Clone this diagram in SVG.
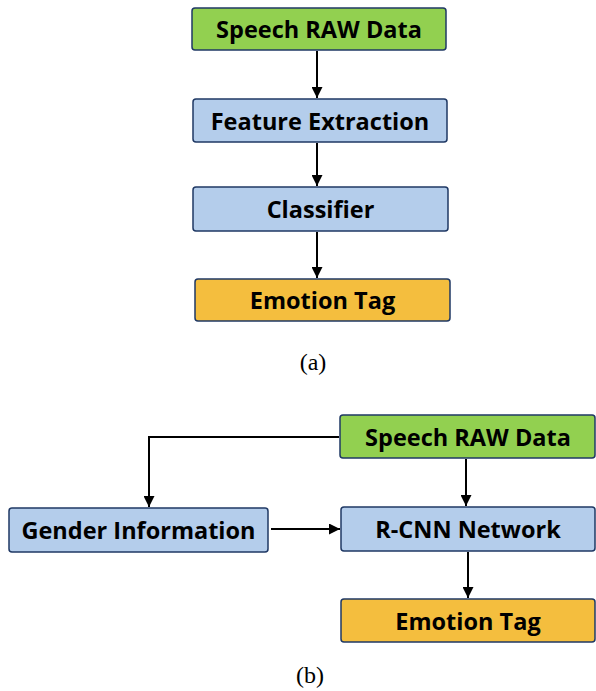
<svg xmlns="http://www.w3.org/2000/svg" width="596" height="691" viewBox="0 0 596 691">
<style>
.box{stroke:#1F3864;stroke-width:1.5}
.g{fill:#92D050}.b{fill:#B4CDEB}.o{fill:#F4BE3E}
.t{font-family:"Open Sans","Noto Sans",sans-serif;font-weight:bold;font-size:23.5px;fill:#000;text-anchor:middle;dominant-baseline:central}
.c{font-family:"Liberation Serif",serif;font-size:24px;fill:#000;text-anchor:middle}
.ln{stroke:#000;stroke-width:2;fill:none}
</style>
<defs>
<marker id="ah" viewBox="0 0 10 10" refX="10" refY="5" markerWidth="5.5" markerHeight="5.5" orient="auto" markerUnits="strokeWidth">
<path d="M0,0 L10,5 L0,10 z" fill="#000"/>
</marker>
</defs>
<g id="a-speech"><rect class="box g" x="192" y="8" width="254" height="42" rx="3"/><text class="t" x="319" y="29">Speech RAW Data</text></g>
<g id="a-feature"><rect class="box b" x="193" y="99" width="254" height="43" rx="3"/><text class="t" x="320" y="120.5">Feature Extraction</text></g>
<g id="a-classifier"><rect class="box b" x="193" y="187" width="255" height="44" rx="3"/><text class="t" x="320.5" y="209">Classifier</text></g>
<g id="a-emotion"><rect class="box o" x="195" y="279" width="255" height="42" rx="3"/><text class="t" x="322.5" y="300">Emotion Tag</text></g>
<text class="c" x="313" y="370">(a)</text>
<g id="b-speech"><rect class="box g" x="340" y="415" width="255" height="43" rx="3"/><text class="t" x="468" y="436.5">Speech RAW Data</text></g>
<g id="b-rcnn"><rect class="box b" x="341" y="507" width="254" height="44" rx="3"/><text class="t" x="468" y="529">R-CNN Network</text></g>
<g id="b-emotion"><rect class="box o" x="341" y="599" width="254" height="43" rx="3"/><text class="t" x="468" y="620.5">Emotion Tag</text></g>
<g id="b-gender"><rect class="box b" x="9" y="508" width="259" height="44" rx="3"/><text class="t" x="138.5" y="530">Gender Information</text></g>
<text class="c" x="310" y="683">(b)</text>
<g id="connectors">
<line class="ln" x1="317" y1="51" x2="317" y2="98" marker-end="url(#ah)"/>
<line class="ln" x1="317" y1="143" x2="317" y2="186" marker-end="url(#ah)"/>
<line class="ln" x1="317" y1="232" x2="317" y2="278" marker-end="url(#ah)"/>
<polyline class="ln" points="339,437 149,437 149,507" marker-end="url(#ah)"/>
<line class="ln" x1="271" y1="529" x2="340" y2="529" marker-end="url(#ah)"/>
<line class="ln" x1="466" y1="459" x2="466" y2="506" marker-end="url(#ah)"/>
<line class="ln" x1="468" y1="552" x2="468" y2="598" marker-end="url(#ah)"/>
</g>
</svg>
